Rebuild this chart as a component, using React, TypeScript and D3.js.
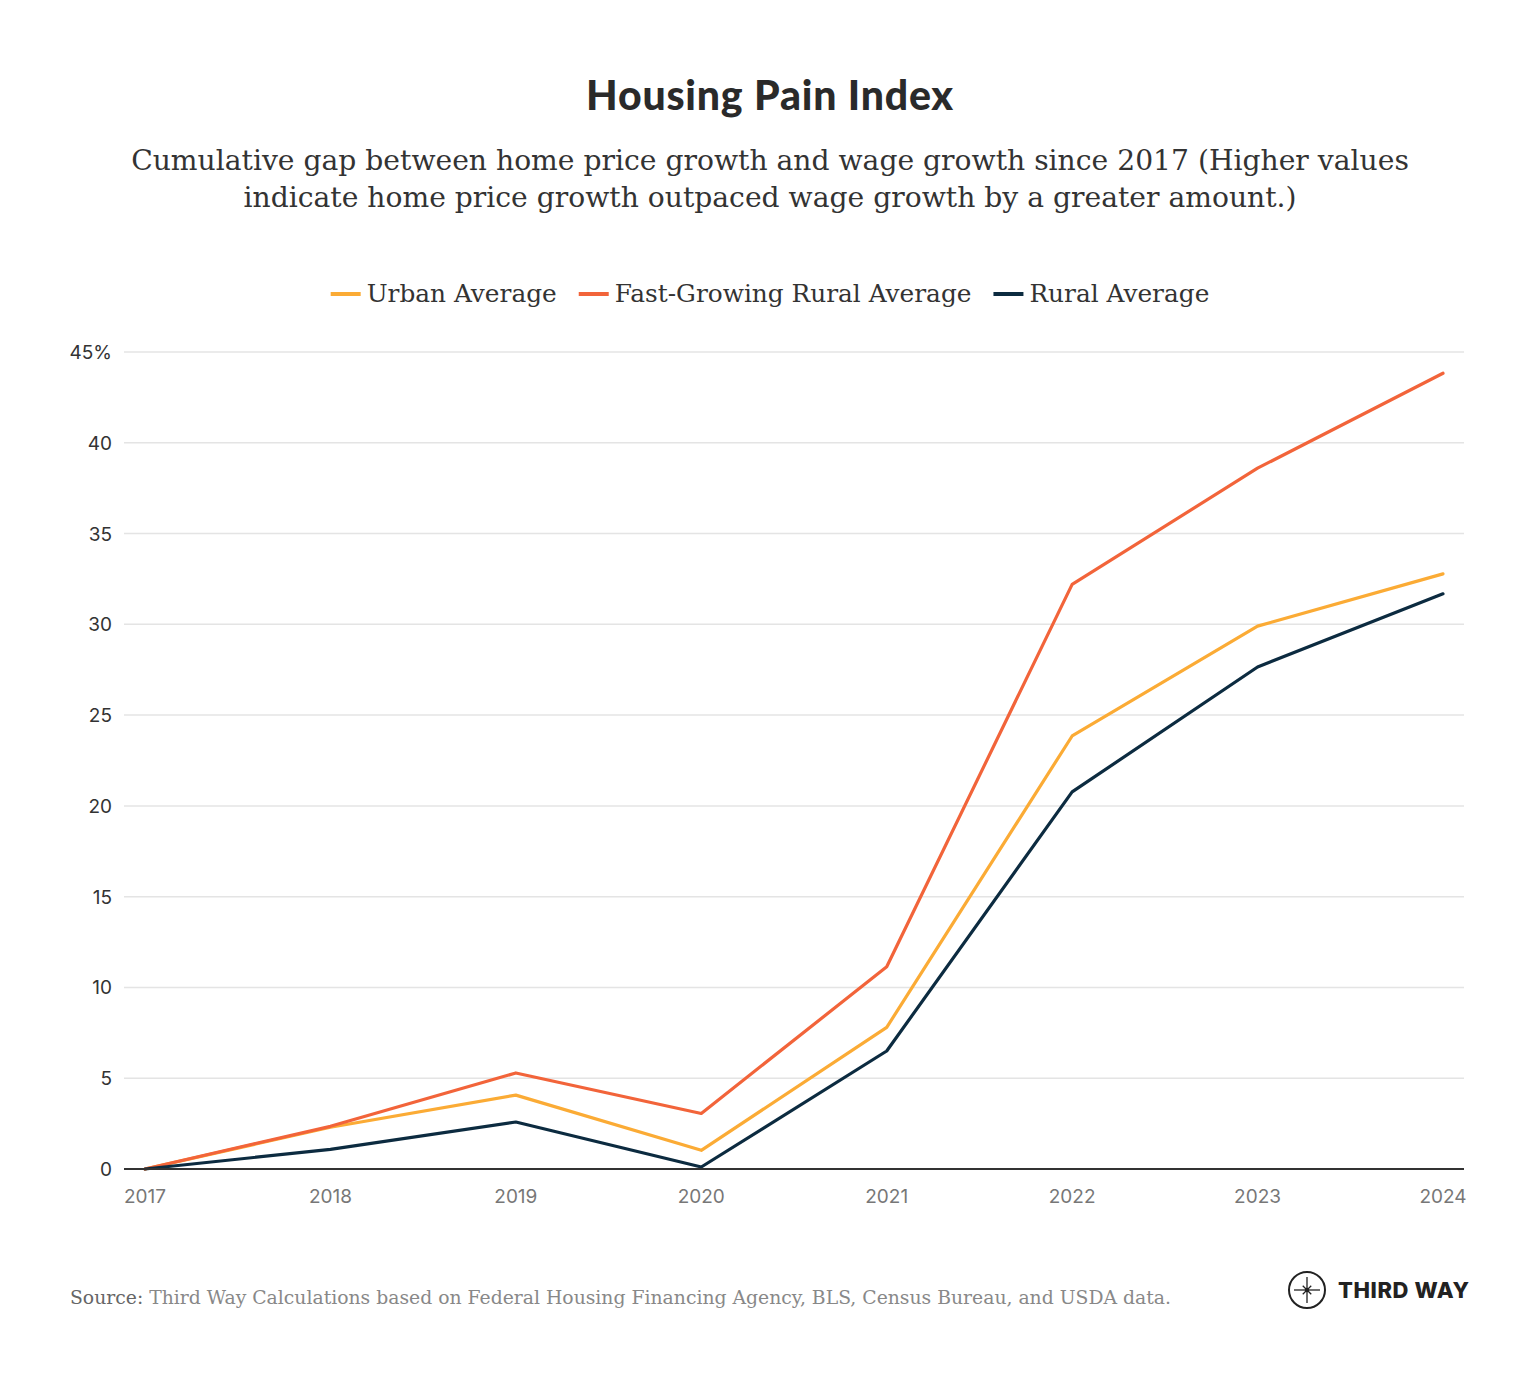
import React, { useRef, useEffect } from 'react';
import * as d3 from 'd3';

// ─── Data ───────────────────────────────────────────────────────────────────
const years = [2017, 2018, 2019, 2020, 2021, 2022, 2023, 2024];
const urbanAverage = [0, 2.3, 4.07, 1.03, 7.8, 23.85, 29.9, 32.78];
const fastGrowingRural = [0, 2.35, 5.29, 3.06, 11.14, 32.2, 38.6, 43.83];
const ruralAverage = [0, 1.08, 2.59, 0.11, 6.5, 20.77, 27.65, 31.68];
const yTicks = [0, 5, 10, 15, 20, 25, 30, 35, 40, 45];

const seriesNames = ['Urban Average', 'Fast-Growing Rural Average', 'Rural Average'];
const seriesColors = ['#fbab35', '#f2643a', '#0c2b40'];

const W = 1540;
const H = 1380;

const App: React.FC = () => {
    const ref = useRef<SVGSVGElement | null>(null);

    useEffect(() => {
        if (!ref.current) return;
        const svg = d3.select(ref.current);
        svg.selectAll('*').remove();

        const serif = '"DejaVu Serif", serif';
        const sans = 'Inter, "Open Sans", sans-serif';

        // ─── Titles ─────────────────────────────────────────────────────────
        svg.append('text')
            .attr('x', 770).attr('y', 110)
            .attr('text-anchor', 'middle')
            .style('font-family', 'Lato, sans-serif')
            .style('font-weight', 900)
            .style('font-size', '41px')
            .style('letter-spacing', '0.8px')
            .style('fill', '#2a2a2a')
            .text('Housing Pain Index');

        const sub = [
            'Cumulative gap between home price growth and wage growth since 2017 (Higher values',
            'indicate home price growth outpaced wage growth by a greater amount.)',
        ];
        sub.forEach((t, i) => {
            svg.append('text')
                .attr('x', 770).attr('y', 170 + i * 37)
                .attr('text-anchor', 'middle')
                .style('font-family', serif)
                .style('font-size', '28.2px')
                .style('fill', '#333')
                .text(t);
        });

        // ─── Legend ─────────────────────────────────────────────────────────
        const legend = svg.append('g');
        let lx = 0;
        seriesNames.forEach((name, i) => {
            const g = legend.append('g').attr('transform', `translate(${lx},0)`);
            g.append('line')
                .attr('x1', 0).attr('x2', 30).attr('y1', 0).attr('y2', 0)
                .attr('stroke', seriesColors[i]).attr('stroke-width', 4);
            const t = g.append('text')
                .attr('x', 36).attr('y', 8)
                .style('font-family', serif)
                .style('font-size', '24.8px')
                .style('fill', '#333')
                .text(name);
            const w = (t.node() as SVGTextElement).getComputedTextLength();
            lx += 36 + w + 22;
        });
        const legendW = lx - 22;
        legend.attr('transform', `translate(${770 - legendW / 2},294)`);

        // ─── Scales ─────────────────────────────────────────────────────────
        const x = d3.scalePoint<number>().domain(years).range([145, 1443]);
        const y = d3.scaleLinear().domain([0, 45]).range([1169, 352]);

        // grid
        svg.append('g')
            .selectAll('line')
            .data(yTicks.filter(d => d > 0))
            .enter()
            .append('line')
            .attr('x1', 124).attr('x2', 1464)
            .attr('y1', d => y(d)).attr('y2', d => y(d))
            .attr('stroke', '#e4e4e4').attr('stroke-width', 1.5);

        // y labels
        svg.append('g')
            .selectAll('text')
            .data(yTicks)
            .enter()
            .append('text')
            .attr('x', 112)
            .attr('y', d => y(d) + 7)
            .attr('text-anchor', 'end')
            .style('font-family', sans)
            .style('font-size', '19px')
            .style('fill', '#333')
            .text(d => (d === 45 ? '45%' : String(d)));

        // x labels
        svg.append('g')
            .selectAll('text')
            .data(years)
            .enter()
            .append('text')
            .attr('x', d => x(d) as number)
            .attr('y', 1203)
            .attr('text-anchor', 'middle')
            .style('font-family', sans)
            .style('font-size', '19px')
            .style('fill', '#777')
            .text(d => String(d));

        // ─── Lines ──────────────────────────────────────────────────────────
        const line = d3.line<number>()
            .x((_, i) => x(years[i]) as number)
            .y(d => y(d));

        [urbanAverage, fastGrowingRural, ruralAverage].forEach((vals, i) => {
            svg.append('path')
                .datum(vals)
                .attr('fill', 'none')
                .attr('stroke', seriesColors[i])
                .attr('stroke-width', 3.2)
                .attr('stroke-linejoin', 'round')
                .attr('stroke-linecap', 'round')
                .attr('d', line);
        });

        // zero axis on top
        svg.append('line')
            .attr('x1', 124).attr('x2', 1464)
            .attr('y1', y(0)).attr('y2', y(0))
            .attr('stroke', '#333').attr('stroke-width', 2);

        // ─── Source ─────────────────────────────────────────────────────────
        const src = svg.append('text')
            .attr('x', 70).attr('y', 1304)
            .style('font-family', serif)
            .style('font-size', '18.8px')
            .style('fill', '#888');
        src.append('tspan').style('fill', '#666').text('Source:');
        src.append('tspan').text(' Third Way Calculations based on Federal Housing Financing Agency, BLS, Census Bureau, and USDA data.');

        // ─── Logo ───────────────────────────────────────────────────────────
        const logo = svg.append('g').attr('transform', 'translate(1307,1290)');
        logo.append('circle').attr('r', 18).attr('fill', 'none')
            .attr('stroke', '#222').attr('stroke-width', 2);
        const star = d3.range(8).map(k => {
            const a = (k * Math.PI) / 4 - Math.PI / 2;
            const r = k % 2 === 0 ? 13 : 6;
            return [r * Math.cos(a), r * Math.sin(a)] as [number, number];
        });
        star.forEach(p => {
            logo.append('line').attr('x1', 0).attr('y1', 0)
                .attr('x2', p[0]).attr('y2', p[1])
                .attr('stroke', '#222').attr('stroke-width', 1.3);
        });
        logo.append('circle').attr('r', 2.2).attr('fill', '#222');
        svg.append('text')
            .attr('x', 1338).attr('y', 1298)
            .style('font-family', 'Inter, sans-serif')
            .style('font-weight', 800)
            .style('font-size', '22px')
            .style('letter-spacing', '0.6px')
            .style('fill', '#222')
            .text('THIRD WAY');
    }, []);

    return (
        <svg
            ref={ref}
            width={W}
            height={H}
            style={{ position: 'absolute', left: 0, top: 0, background: '#fff' }}
        />
    );
};

export default App;
